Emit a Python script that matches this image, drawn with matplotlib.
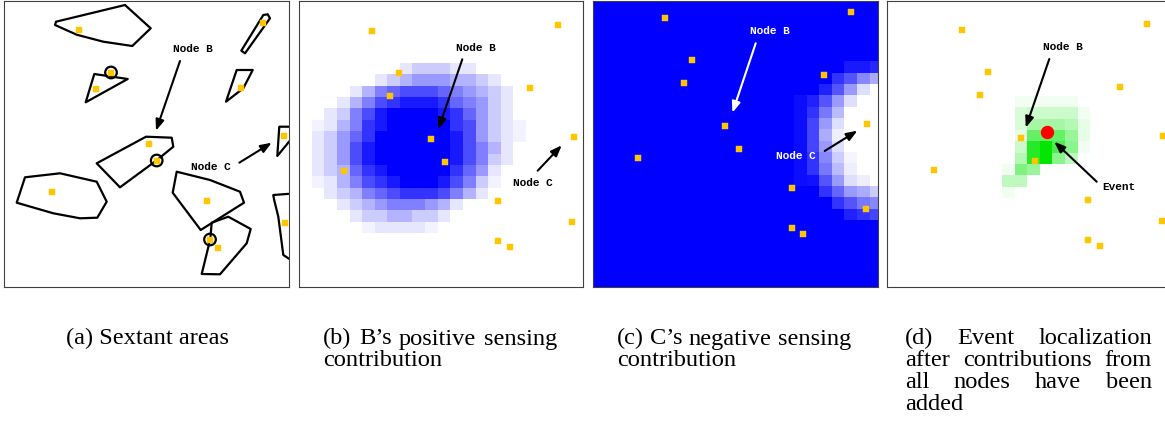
import numpy as np
import matplotlib
matplotlib.use("Agg")
import matplotlib.pyplot as plt
from matplotlib.colors import LinearSegmentedColormap
from matplotlib.patches import Polygon, Circle

W, H, DPI = 1165, 422, 100

# node positions shared by panels (b)-(d), pixels from the panel's top-left
node_x = [73, 258.5, 99.5, 231.3, 91.3, 132.4, 274.7, 146.4, 45.4, 199.4, 273.4, 199.4, 211.2]
node_y = [30, 23.5, 72, 86.8, 95, 138, 136, 160.7, 170.2, 200, 221.3, 240.3, 246.2]

# panel (a): nodes, circled nodes and sextant areas
a_node_x = [75.3, 259.3, 107, 92, 236.7, 144.7, 152.7, 280, 48, 202.7, 281, 206, 214]
a_node_y = [29.3, 22, 72, 88, 86.7, 143, 160, 135, 190.7, 200, 222, 239, 246.7]
a_circled = [2, 6, 11]
sextants = [
    [(52, 20.7), (121, 4), (146.7, 27.3), (128.3, 45), (99.3, 40.7), (72.7, 33.7), (51, 24)],
    [(90.3, 73), (123.7, 78), (81.7, 101.3)],
    [(237.3, 49.7), (259.3, 14), (263.7, 13.3), (266, 17.3), (241, 52.3)],
    [(232.7, 69), (248.7, 69), (239.3, 87.3), (222, 100.7)],
    [(92.7, 162.3), (142, 135.7), (167.7, 136.7), (169.3, 145.7), (152.7, 159.3), (116, 186.3)],
    [(21, 176.3), (56, 172.3), (92.7, 180.7), (102.7, 200.7), (93.3, 216.7), (76, 217.3),
     (49.3, 212.3), (12.7, 201.7)],
    [(172.7, 170.7), (206, 179), (236, 190.7), (240, 201.7), (196.7, 229), (168.7, 191.7)],
    [(207.7, 221.7), (224.3, 215.7), (246.7, 228), (242.7, 242.3), (216, 273.3), (197.7, 273),
     (206.3, 238)],
    [(275.3, 125.7), (292, 125.7), (292, 132.3), (273.3, 155)],
    [(269.3, 194), (292, 192.3), (292, 262.3), (279.3, 254), (274.3, 215.7), (270, 198.3)],
]

# sensing grid: row -> (first column, intensities 0-10)
N_ROWS, N_COLS = 27, 24
b_blob = {
    5: (8, [1, 2, 2, 2, 1, 1]),
    6: (6, [1, 2, 3, 4, 4, 4, 3, 3, 2, 1]),
    7: (4, [1, 3, 5, 6, 7, 7, 7, 6, 5, 4, 3, 2, 1]),
    8: (3, [1, 3, 5, 7, 8, 9, 9, 9, 8, 6, 5, 4, 2, 1]),
    9: (2, [1, 2, 5, 7, 9, 10, 10, 10, 10, 9, 8, 6, 4, 2, 1]),
    10: (1, [0.5, 1, 3, 5, 8, 9, 10, 10, 10, 10, 10, 8, 7, 4, 2, 1, 0.5]),
    11: (1, [1, 2, 4, 6, 8, 10, 10, 10, 10, 10, 10, 9, 7, 4, 2, 1, 0.5]),
    12: (1, [1, 2, 4, 7, 9, 10, 10, 10, 10, 10, 10, 9, 7, 5, 3, 1]),
    13: (1, [1, 2, 4, 7, 9, 10, 10, 10, 10, 10, 10, 9, 7, 5, 2, 1]),
    14: (1, [1, 2, 3, 6, 8, 9, 10, 10, 10, 10, 10, 8, 6, 4, 1]),
    15: (1, [0.5, 1, 3, 5, 7, 8, 9, 10, 10, 10, 9, 7, 5, 2, 0.5]),
    16: (2, [1, 2, 3, 5, 6, 7, 8, 8, 8, 7, 5, 3, 1]),
    17: (3, [1, 2, 3, 4, 5, 5, 5, 4, 3, 1]),
    18: (4, [1, 2, 2, 3, 3, 2, 2, 1]),
    19: (5, [0.5, 1, 1, 1, 1, 0.5]),
}
c_blob = {
    6: (20, [1, 1, 1.5]),
    7: (19, [2, 3.3, 5.3, 6.7]),
    8: (18, [1.3, 3.3, 6, 8.7, 10]),
    9: (16, [0.5, 1.3, 3.3, 6, 8.7, 10, 10]),
    10: (16, [0.5, 2, 4.7, 7.3, 10, 10, 10]),
    11: (16, [0.5, 2.7, 6, 8.7, 10, 10, 10]),
    12: (16, [0.5, 2.7, 6.7, 9.3, 10, 10, 10]),
    13: (16, [0.5, 2.7, 6, 8.7, 10, 10, 10]),
    14: (16, [0.5, 2, 5.3, 8, 9.6, 10, 10]),
    15: (16, [0.5, 2, 4.7, 7.3, 9.3, 10, 10]),
    16: (16, [0.5, 0.7, 3.3, 6, 8.7, 9.3, 10]),
    17: (18, [2, 4, 6, 6.7, 8]),
    18: (19, [2, 3.3, 4.7, 5.3]),
    19: (20, [1.3, 2, 2.7]),
}
d_blob = {
    8: (10, [0.5, 0.5, 0.5, 0.5, 0.5]),
    9: (10, [1.5, 2, 2, 2, 2, 0.5]),
    10: (10, [1.5, 3.5, 3.5, 3.5, 3, 1]),
    11: (10, [1, 6, 6, 6, 4, 1]),
    12: (10, [2, 8.5, 10, 7, 4.5, 0.5]),
    13: (10, [3, 8.5, 10, 4.5, 2.5]),
    14: (9, [0.5, 5, 4]),
    15: (9, [2.5, 2.5]),
    16: (9, [0.5]),
}
event_x, event_y = [158.2], [132.3]

captions = [
    (66, 323, [["(a)", "Sextant", "areas"]]),
    (323, 557, [["(b)", "B’s", "positive", "sensing"], ["contribution"]]),
    (617, 851, [["(c)", "C’s", "negative", "sensing"], ["contribution"]]),
    (905, 1152, [["(d)", "Event", "localization"], ["after", "contributions", "from"],
                 ["all", "nodes", "have", "been"], ["added"]]),
]

# ---- layout
CELL_X0, CELL_W = 0.1, 12.6
CELL_Y0, CELL_H = 5.4, 11.33
GOLD = "#FFC600"
MONO = "Liberation Mono"
SERIF = "Liberation Serif"

fig = plt.figure(figsize=(W / DPI, H / DPI), dpi=DPI)


def panel(left, top, width, height, ox=0, oy=0):
    ax = fig.add_axes([left / W, 1 - (top + height) / H, width / W, height / H])
    ax.set_xlim(ox, ox + width)
    ax.set_ylim(oy + height, oy)
    ax.set_xticks([])
    ax.set_yticks([])
    for s in ax.spines.values():
        s.set_linewidth(0.8)
        s.set_color("#404040")
        s.set_zorder(10)
    return ax


def blob(ax, rows, colors):
    g = np.zeros((N_ROWS, N_COLS))
    for r, (c0, vals) in rows.items():
        g[r, c0:c0 + len(vals)] = vals
    xe = CELL_X0 + CELL_W * np.arange(N_COLS + 1)
    ye = CELL_Y0 + CELL_H * np.arange(N_ROWS + 1)
    cmap = LinearSegmentedColormap.from_list("c", colors)
    ax.pcolormesh(xe, ye, g, cmap=cmap, vmin=0, vmax=10,
                  shading="flat", antialiased=False, linewidth=0)


def nodes(ax, xs, ys):
    ax.plot(xs, ys, "s", color=GOLD, ms=4.6, mec=GOLD, mew=0.3, zorder=5)


def label(ax, s, x, y, color="black"):
    ax.text(x, y, s, family=MONO, fontsize=8, fontweight="bold", color=color,
            ha="center", va="center", zorder=6)


def arrow(ax, start, end, color="black"):
    ax.annotate("", xy=end, xytext=start, zorder=6,
                arrowprops=dict(arrowstyle="-|>,head_length=0.65,head_width=0.25",
                                mutation_scale=10, lw=1.5, color=color,
                                shrinkA=0, shrinkB=0))


# (a) sextant areas
ax = panel(4, 1, 285, 286)
for pts in sextants:
    ax.add_patch(Polygon(pts, closed=True, fill=False, ec="black", lw=1.6, joinstyle="round"))
nodes(ax, a_node_x, a_node_y)
for i in a_circled:
    ax.add_patch(Circle((a_node_x[i], a_node_y[i] - 0.5), 5.8, fill=False, ec="black", lw=1.6, zorder=4))
label(ax, "Node B", 189.3, 48)
arrow(ax, (176, 60), (152, 129.7))
label(ax, "Node C", 206.7, 166.3)
arrow(ax, (235.3, 161.7), (267.7, 141.7))

# (b) positive contribution of B
ax = panel(299, 1, 284.3, 286)
blob(ax, b_blob, ["white", "#0000FF"])
nodes(ax, node_x, node_y)
label(ax, "Node B", 177, 46.7)
arrow(ax, (163.3, 58.3), (139.3, 128.3))
label(ax, "Node C", 234.3, 181.7)
arrow(ax, (238.7, 169.7), (262.7, 144.3))

# (c) negative contribution of C
ax = panel(592.7, 1, 285.6, 286, ox=0.5, oy=13)
blob(ax, c_blob, ["#0000FF", "white"])
nodes(ax, node_x, node_y)
label(ax, "Node B", 177.5, 43, color="white")
arrow(ax, (163.5, 55.3), (140.2, 124.7), color="white")
label(ax, "Node C", 203.5, 167.7, color="white")
arrow(ax, (232.5, 163), (265.2, 142.7))

# (d) localisation
ax = panel(887, 1, 285, 286, ox=-1.5, oy=1)
blob(ax, d_blob, ["white", "#00E600"])
nodes(ax, node_x, node_y)
ax.plot(event_x, event_y, "o", color="#FF0000", ms=8.6, mec="#FF0000", zorder=5)
label(ax, "Node B", 174.8, 46.7)
arrow(ax, (160.8, 59), (137.2, 127.7))
label(ax, "Event", 230.5, 186.7)
arrow(ax, (208.2, 181.7), (165.8, 141.7))

# captions, justified like the LaTeX subfigure captions
CAP_SIZE = 17.6
BASE0, LEAD = 344.5, 21.7
placed = []
for x0, x1, lines in captions:
    for k, words in enumerate(lines):
        y = BASE0 + k * LEAD
        last = k == len(lines) - 1
        if last:
            fig.text(x0 / W, 1 - y / H, " ".join(words), fontsize=CAP_SIZE, family=SERIF, va="baseline")
        else:
            ts = [fig.text(x0 / W, 1 - y / H, w, fontsize=CAP_SIZE, family=SERIF, va="baseline") for w in words]
            placed.append((x0, x1, ts))

fig.canvas.draw()
r = fig.canvas.get_renderer()
for x0, x1, ts in placed:
    widths = [t.get_window_extent(r).width for t in ts]
    gap = (x1 - x0 - sum(widths)) / (len(ts) - 1)
    x = x0
    for t, w in zip(ts, widths):
        t.set_x(x / W)
        x += w + gap

fig.savefig("out.png", dpi=DPI)
